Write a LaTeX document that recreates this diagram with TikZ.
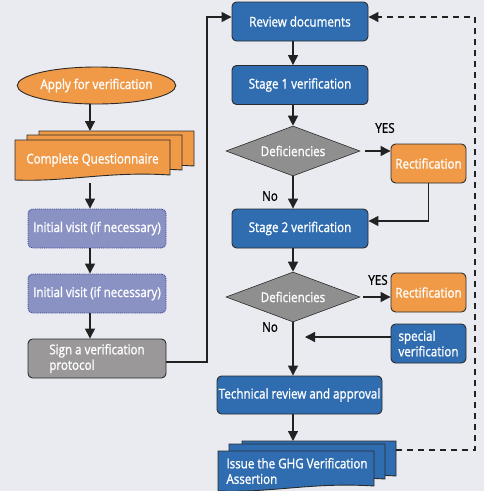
\documentclass[tikz,border=0pt]{standalone}
\usepackage{fontspec}
\setmainfont{Open Sans}[FakeStretch=0.86, FakeBold=1.2]
\usetikzlibrary{shapes.geometric,arrows.meta}
\definecolor{bgc}{HTML}{EAEBF0}
\definecolor{myblue}{HTML}{2F6DB0}
\definecolor{myorange}{HTML}{F09A48}
\definecolor{mygray}{HTML}{9A9898}
\definecolor{diagray}{HTML}{8F8F8F}
\definecolor{lav}{HTML}{8A92C4}
\definecolor{lavedge}{HTML}{2E3F8F}
\definecolor{edge}{HTML}{2B2B2B}
\definecolor{arrowc}{HTML}{222222}
\newcommand{\mysheet}[4]{\path[draw=edge,line width=0.9pt,fill=#1] (#2,#3) -- (#4,#3) -- (#4,#3+35) .. controls ({#4-0.4*(#4-#2)},#3+31) and ({#2+0.35*(#4-#2)},#3+42) .. (#2,#3+40) -- cycle;}
\begin{document}
\begin{tikzpicture}[x=1pt,y=-1pt,
  font=\fontsize{13.5}{15.5}\selectfont,
  box/.style={rectangle, rounded corners=4.5pt, draw=edge, line width=0.9pt, text=white, inner sep=0pt, minimum height=39pt},
  bluebox/.style={box, fill=myblue, minimum width=136pt},
  orbox/.style={box, fill=myorange, minimum width=75pt},
  lavbox/.style={box, fill=lav, draw=lavedge, densely dotted, minimum width=138pt},
  graybox/.style={box, fill=mygray, minimum width=138pt, align=left},
  dia/.style={diamond, shape aspect=2.68, fill=diagray, draw=edge, line width=0.6pt, text=white, inner sep=0pt, minimum width=134pt, minimum height=50pt},
  doctext/.style={text=white, inner sep=0pt, align=left},
  lbl/.style={text=black, inner sep=0pt},
  arr/.style={draw=arrowc, line width=1.3pt, -{Triangle[width=10pt,length=10pt]}},
  dasharr/.style={draw=arrowc, line width=1.1pt, dash pattern=on 6pt off 5pt, -{Triangle[width=10pt,length=10pt]}},
]
\useasboundingbox (0,0) rectangle (484,491);
\fill[bgc] (0,0) rectangle (484,491);

% left column
\node[ellipse, fill=myorange, draw=edge, line width=0.9pt, text=white, inner sep=0pt, minimum width=137pt, minimum height=37pt] (apply) at (96.5,85.5) {Apply for verification};
\mysheet{myorange}{39}{131}{194}
\mysheet{myorange}{27}{135}{182}
\mysheet{myorange}{15}{140}{170}
\node[doctext] (cq) at (92.5,160) {Complete Questionnaire};
\coordinate (cqtop) at (90,131);
\coordinate (cqbot) at (90,183);
\node[lavbox] (iv1) at (97,228.5) {Initial visit (if necessary)};
\node[lavbox] (iv2) at (97,293.5) {Initial visit (if necessary)};
\node[graybox] (sign) at (97,358.5) {Sign a verification\\protocol};

% right column
\node[bluebox] (review) at (300,21.5) {Review documents};
\node[bluebox] (s1v) at (300,85) {Stage 1 verification};
\node[dia] (d1) at (293,151) {Deficiencies};
\node[orbox] (rect1) at (428.5,163.5) {Rectification};
\node[bluebox] (s2v) at (300,228.5) {Stage 2 verification};
\node[dia] (d2) at (293,297) {Deficiencies};
\node[orbox] (rect2) at (428.5,292.5) {Rectification};
\node[box, fill=myblue, minimum width=75pt, align=left] (special) at (428.5,343.5) {special\\verification};
\node[bluebox, minimum width=165pt, minimum height=38pt] (tech) at (299.5,395) {Technical review and approval};
\mysheet{myblue}{242}{441}{396}
\mysheet{myblue}{229}{444}{385}
\mysheet{myblue}{218}{451}{374}
\node[doctext] (issue) at (297,471) {Issue the GHG Verification\\Assertion};
\coordinate (isstop) at (293,441);
\coordinate (issright) at (396,450);
\coordinate (rx) at (293,0);
\coordinate (spend) at (305,337);
\coordinate (leftbend) at (207,0);
\coordinate (dashbend) at (475,0);

\node[lbl] (yes1) at (385,128) {YES};
\node[lbl] (no1) at (270,196) {No};
\node[lbl] (yes2) at (378,280) {YES};
\node[lbl] (no2) at (270,327) {No};

% left arrows
\draw[arr] (apply.south -| cqtop) -- (cqtop);
\draw[arr] (cqbot) -- (iv1.north -| cqtop);
\draw[arr] (iv1.south -| cqtop) -- (iv2.north -| cqtop);
\draw[arr] (iv2.south -| cqtop) -- (sign.north -| cqtop);
\draw[arr] ([yshift=-3.5pt]sign.east) -| ([yshift=4.5pt]leftbend |- review.west) -- ([yshift=4.5pt]review.west);

% right arrows
\draw[arr] (review.south -| rx) -- (s1v.north -| rx);
\draw[arr] (s1v.south -| rx) -- (d1.north);
\draw[arr] ([xshift=5pt]d1.east) -- (rect1.west |- d1.east);
\draw[arr] (rect1.south) |- ([yshift=7.5pt]s2v.east);
\draw[arr] (d1.south) -- (s2v.north -| rx);
\draw[arr] (s2v.south -| rx) -- (d2.north);
\draw[arr] ([xshift=3pt]d2.east) -- (rect2.west |- d2.east);
\draw[arr] ([yshift=6.5pt]special.west) -- (spend);
\draw[arr] (d2.south) -- (tech.north -| rx);
\draw[arr] (tech.south -| rx) -- (isstop);
\draw[dasharr] (issright) -| ([yshift=4.5pt]dashbend |- review.east) -- ([yshift=4.5pt]review.east);
\end{tikzpicture}
\end{document}
